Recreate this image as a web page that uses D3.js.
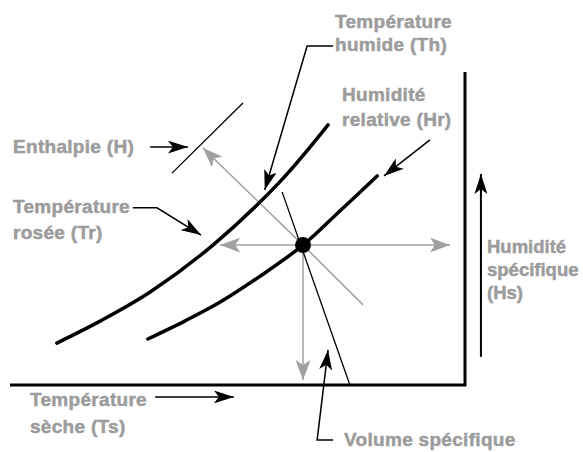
<!DOCTYPE html>
<html>
<head>
<meta charset="utf-8">
<script src="https://cdn.jsdelivr.net/npm/d3@7"></script>
<style>
  body { margin: 0; background: #fff; }
  text { font-family: "Liberation Sans", Arial, sans-serif; font-weight: bold; font-size: 19px; letter-spacing: 0.3px; fill: #9c9c9c; stroke: #9c9c9c; stroke-width: 0.5px; }
  text.tight { font-size: 18.5px; letter-spacing: 0; }
</style>
</head>
<body>
<svg id="chart" width="583" height="452"></svg>
<script>
// diagram units: dry temperature 0..100 (x), specific humidity 0..100 (y)
const curveTr = [[10.3,13.4],[19.8,20.4],[30.8,29.7],[44.6,44.7],[59.3,64.9],[69.9,83.1]];
const curveHr = [[30.3,14.7],[38.5,20.5],[46.2,26.5],[55.0,34.8],[64.4,44.7],[72.5,55.6],[80.7,66.8]];
const statePoint = [64.4, 44.7];
const grayArrows = [[46.2,44.7],[96.7,44.7],[64.4,1.6],[42.4,75.7]];
const grayLineEnd = [77.6, 25.6];
const volumeLine = [[59.8,61.7],[74.7,0]];
const enthalpyLine = [[35.6,67.7],[51.2,90.1]];
const frame = [[0,0],[100,0],[100,100]];
const hsArrow = [[103.5,9.0],[103.5,67.4]];
const leaders = [
  [[30.8,76.0],[39.1,76.0]],              // Enthalpie
  [[27.0,56.6],[32.3,56.6],[42.0,47.9]],  // Température rosée
  [[71.0,108.3],[65.3,108.3],[56.0,62.3]],// Température humide
  [[92.3,78.3],[82.2,66.8]],              // Humidité relative
  [[31.9,-3.8],[49.2,-3.8]],              // Température sèche
  [[71.0,-17.6],[67.5,-17.6],[69.9,11.2]] // Volume spécifique
];
const labels = [
  {lines: ["Température", "humide (Th)"], x: 335, y: 28, lh: 23},
  {lines: ["Humidité", "relative (Hr)"], x: 342, y: 101, lh: 25},
  {lines: ["Enthalpie (H)"], x: 13, y: 153, lh: 0},
  {lines: ["Température", "rosée (Tr)"], x: 13, y: 213, lh: 26},
  {lines: ["Température", "sèche (Ts)"], x: 30, y: 406, lh: 27},
  {lines: ["Humidité", "spécifique", "(Hs)"], x: 487, y: 253, lh: 23, cls: 'tight'},
  {lines: ["Volume spécifique"], x: 344, y: 446, lh: 0}
];

const svg = d3.select('#chart');
const x = d3.scaleLinear().domain([0, 100]).range([10, 465]);
const y = d3.scaleLinear().domain([0, 100]).range([385, 72]);

const defs = svg.append('defs');
const marker = (id, color, len, wid) => {
  defs.append('marker')
    .attr('id', id)
    .attr('markerUnits', 'userSpaceOnUse')
    .attr('markerWidth', len).attr('markerHeight', wid)
    .attr('refX', len).attr('refY', wid / 2)
    .attr('orient', 'auto')
    .append('path')
    .attr('d', `M0,0 L${len},${wid / 2} L0,${wid} L${len * 0.25},${wid / 2} Z`)
    .attr('fill', color);
};
marker('headBlack', '#000', 20, 13);
marker('headGray', '#a0a0a0', 20, 15);

const line = d3.line().x(d => x(d[0])).y(d => y(d[1]));
const curve = d3.line().x(d => x(d[0])).y(d => y(d[1])).curve(d3.curveCatmullRom);

// gray construction arrows from the state point
svg.selectAll('.gray')
  .data(grayArrows)
  .enter()
  .append('path')
  .attr('d', d => line([statePoint, d]))
  .attr('stroke', '#a0a0a0').attr('stroke-width', 1.5).attr('fill', 'none')
  .attr('marker-end', 'url(#headGray)');
svg.append('path')
  .attr('d', line([statePoint, grayLineEnd]))
  .attr('stroke', '#a0a0a0').attr('stroke-width', 1.5);

// frame
svg.append('path')
  .attr('d', line(frame))
  .attr('stroke', '#000').attr('stroke-width', 3).attr('fill', 'none');

// curves
[curveTr, curveHr].forEach(c => {
  svg.append('path')
    .attr('d', curve(c))
    .attr('stroke', '#000').attr('stroke-width', 3.5).attr('fill', 'none')
    .attr('stroke-linecap', 'round');
});

// thin lines
[volumeLine, enthalpyLine].forEach(l => {
  svg.append('path')
    .attr('d', line(l))
    .attr('stroke', '#000').attr('stroke-width', 1.3).attr('fill', 'none');
});

svg.append('path')
  .attr('d', line(hsArrow))
  .attr('stroke', '#000').attr('stroke-width', 2)
  .attr('marker-end', 'url(#headBlack)');

svg.selectAll('.leader')
  .data(leaders)
  .enter()
  .append('path')
  .attr('d', d => line(d))
  .attr('stroke', '#000').attr('stroke-width', 1.5).attr('fill', 'none')
  .attr('marker-end', 'url(#headBlack)');

svg.append('circle')
  .attr('cx', x(statePoint[0])).attr('cy', y(statePoint[1]))
  .attr('r', 8).attr('fill', '#000');

// labels
labels.forEach(l => {
  const t = svg.append('text').attr('x', l.x).attr('y', l.y).attr('class', l.cls || null);
  l.lines.forEach((s, i) => {
    t.append('tspan').attr('x', l.x).attr('dy', i === 0 ? 0 : l.lh).text(s);
  });
});
</script>
</body>
</html>
